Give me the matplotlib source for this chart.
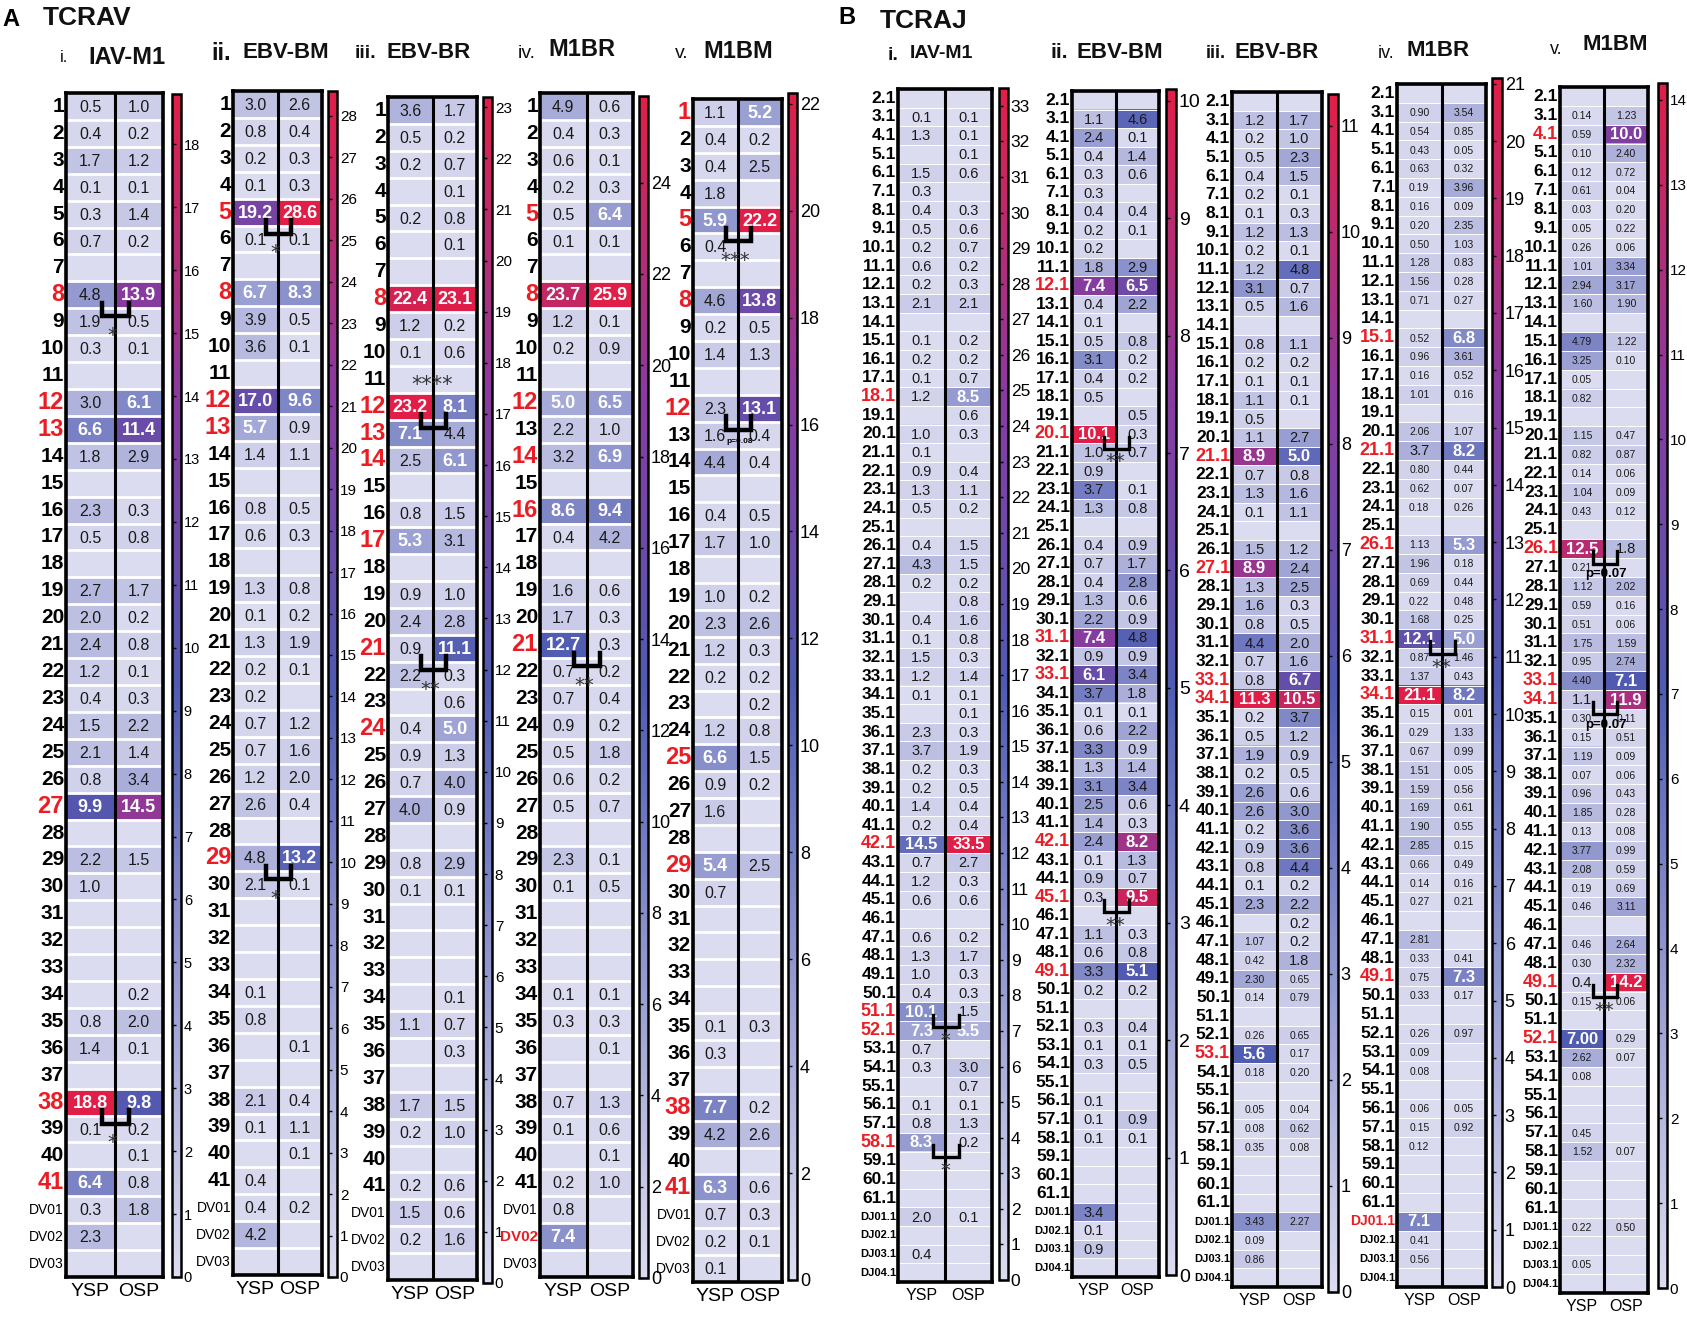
import matplotlib
matplotlib.use('Agg')
import matplotlib.pyplot as plt
import matplotlib.transforms as mtransforms
from matplotlib import font_manager
from matplotlib.colors import LinearSegmentedColormap, Normalize
from matplotlib.cm import ScalarMappable
import numpy as np

W, H = 1687, 1326

# ---------------- data: TCRAV (panel A), '-' = no value ----------------
av_rows = [str(i) for i in range(1, 42)] + ['DV01', 'DV02', 'DV03']

av_iav_ysp = "0.5 0.4 1.7 0.1 0.3 0.7 - 4.8 1.9 0.3 - 3.0 6.6 1.8 - 2.3 0.5 - 2.7 2.0 2.4 1.2 0.4 1.5 2.1 0.8 9.9 - 2.2 1.0 - - - - 0.8 1.4 - 18.8 0.1 - 6.4 0.3 2.3 -".split()
av_iav_osp = "1.0 0.2 1.2 0.1 1.4 0.2 - 13.9 0.5 0.1 - 6.1 11.4 2.9 - 0.3 0.8 - 1.7 0.2 0.8 0.1 0.3 2.2 1.4 3.4 14.5 - 1.5 - - - - 0.2 2.0 0.1 - 9.8 0.2 0.1 0.8 1.8 - -".split()
av_ebvbm_ysp = "3.0 0.8 0.2 0.1 19.2 0.1 - 6.7 3.9 3.6 - 17.0 5.7 1.4 - 0.8 0.6 - 1.3 0.1 1.3 0.2 0.2 0.7 0.7 1.2 2.6 - 4.8 2.1 - - - 0.1 0.8 - - 2.1 0.1 - 0.4 0.4 4.2 -".split()
av_ebvbm_osp = "2.6 0.4 0.3 0.3 28.6 0.1 - 8.3 0.5 0.1 - 9.6 0.9 1.1 - 0.5 0.3 - 0.8 0.2 1.9 0.1 - 1.2 1.6 2.0 0.4 - 13.2 0.1 - - - - - 0.1 - 0.4 1.1 0.1 - 0.2 - -".split()
av_ebvbr_ysp = "3.6 0.5 0.2 - 0.2 - - 22.4 1.2 0.1 - 23.2 7.1 2.5 - 0.8 5.3 - 0.9 2.4 0.9 2.2 - 0.4 0.9 0.7 4.0 - 0.8 0.1 - - - - 1.1 - - 1.7 0.2 - 0.2 1.5 0.2 -".split()
av_ebvbr_osp = "1.7 0.2 0.7 0.1 0.8 0.1 - 23.1 0.2 0.6 - 8.1 4.4 6.1 - 1.5 3.1 - 1.0 2.8 11.1 0.3 0.6 5.0 1.3 4.0 0.9 - 2.9 0.1 - - - 0.1 0.7 0.3 - 1.5 1.0 - 0.6 0.6 1.6 -".split()
av_m1br_ysp = "4.9 0.4 0.6 0.2 0.5 0.1 - 23.7 1.2 0.2 - 5.0 2.2 3.2 - 8.6 0.4 - 1.6 1.7 12.7 0.7 0.7 0.9 0.5 0.6 0.5 - 2.3 0.1 - - - 0.1 0.3 - - 0.7 0.1 - 0.2 0.8 7.4 -".split()
av_m1br_osp = "0.6 0.3 0.1 0.3 6.4 0.1 - 25.9 0.1 0.9 - 6.5 1.0 6.9 - 9.4 4.2 - 0.6 0.3 0.3 0.2 0.4 0.2 1.8 0.2 0.7 - 0.1 0.5 - - - 0.1 0.3 0.1 - 1.3 0.6 0.1 1.0 - - -".split()
av_m1bm_ysp = "1.1 0.4 0.4 1.8 5.9 0.4 - 4.6 0.2 1.4 - 2.3 1.6 4.4 - 0.4 1.7 - 1.0 2.3 1.2 0.2 - 1.2 6.6 0.9 1.6 - 5.4 0.7 - - - - 0.1 0.3 - 7.7 4.2 - 6.3 0.7 0.2 0.1".split()
av_m1bm_osp = "5.2 0.2 2.5 - 22.2 - - 13.8 0.5 1.3 - 13.1 0.4 0.4 - 0.5 1.0 - 0.2 2.6 0.3 0.2 0.2 0.8 1.5 0.2 - - 2.5 - - - - - 0.3 - - 0.2 2.6 - 0.6 0.3 0.1 -".split()

av_red = [['8', '12', '13', '27', '38', '41'],
          ['5', '8', '12', '13', '29'],
          ['8', '12', '13', '14', '17', '21', '24'],
          ['5', '8', '12', '14', '16', '21', 'DV02'],
          ['1', '5', '8', '12', '25', '29', '38', '41']]
av_marks = [[('8', '*'), ('38', '*')],
            [('5', '*'), ('29', '*')],
            [('12', '****'), ('21', '**')],
            [('21', '**')],
            [('5', '***'), ('12', 'p=0.08')]]

# ---------------- data: TCRAJ (panel B) ----------------
aj_rows = ['%d.1' % i for i in range(2, 62)] + ['DJ01.1', 'DJ02.1', 'DJ03.1', 'DJ04.1']

aj_iav_ysp = ("- 0.1 1.3 - 1.5 0.3 0.4 0.5 0.2 0.6  0.2 2.1 - 0.1 0.2 0.1 1.2 - 1.0 0.1  "
              "0.9 1.3 0.5 - 0.4 4.3 0.2 - 0.4 0.1  1.5 1.2 0.1 - 2.3 3.7 0.2 0.2 1.4 0.2  "
              "14.5 0.7 1.2 0.6 - 0.6 1.3 1.0 0.4 10.1  7.3 0.7 0.3 - 0.1 0.8 8.3 - - -  2.0 - 0.4 -").split()
aj_iav_osp = ("- 0.1 0.1 0.1 0.6 - 0.3 0.6 0.7 0.2  0.3 2.1 - 0.2 0.2 0.7 8.5 0.6 0.3 -  "
              "0.4 1.1 0.2 - 1.5 1.5 0.2 0.8 1.6 0.8  0.3 1.4 0.1 0.1 0.3 1.9 0.3 0.5 0.4 0.4  "
              "33.5 2.7 0.3 0.6 - 0.2 1.7 0.3 0.3 1.5  5.5 - 3.0 0.7 0.1 1.3 0.2 - - -  0.1 - - -").split()
aj_ebvbm_ysp = ("- 1.1 2.4 0.4 0.3 0.3 0.4 0.2 0.2 1.8  7.4 0.4 0.1 0.5 3.1 0.4 0.5 - 10.1 1.0  "
                "0.9 3.7 1.3 - 0.4 0.7 0.4 1.3 2.2 7.4  0.9 6.1 3.7 0.1 0.6 3.3 1.3 3.1 2.5 1.4  "
                "2.4 0.1 0.9 0.3 - 1.1 0.6 3.3 0.2 -  0.3 0.1 0.3 - 0.1 0.1 0.1 - - -  3.4 0.1 0.9 -").split()
aj_ebvbm_osp = ("- 4.6 0.1 1.4 0.6 - 0.4 0.1 - 2.9  6.5 2.2 - 0.8 0.2 0.2 - 0.5 0.3 0.7  "
                "- 0.1 0.8 - 0.9 1.7 2.8 0.6 0.9 4.8  0.9 3.4 1.8 0.1 2.2 0.9 1.4 3.4 0.6 0.3  "
                "8.2 1.3 0.7 9.5 - 0.3 0.8 5.1 0.2 -  0.4 0.1 0.5 - - 0.9 0.1 - - -  - - - -").split()
aj_ebvbr_ysp = ("- 1.2 0.2 0.5 0.4 0.2 0.1 1.2 0.2 1.2  3.1 0.5 - 0.8 0.2 0.1 1.1 0.5 1.1 8.9  "
                "0.7 1.3 0.1 - 1.5 8.9 1.3 1.6 0.8 4.4  0.7 0.8 11.3 0.2 0.5 1.9 0.2 2.6 2.6 0.2  "
                "0.9 0.8 0.1 2.3 - 1.07 0.42 2.30 0.14 -  0.26 5.6 0.18 - 0.05 0.08 0.35 - - -  3.43 0.09 0.86 -").split()
aj_ebvbr_osp = ("- 1.7 1.0 2.3 1.5 0.1 0.3 1.3 0.1 4.8  0.7 1.6 - 1.1 0.2 0.1 0.1 - 2.7 5.0  "
                "0.8 1.6 1.1 - 1.2 2.4 2.5 0.3 0.5 2.0  1.6 6.7 10.5 3.7 1.2 0.9 0.5 0.6 3.0 3.6  "
                "3.6 4.4 0.2 2.2 0.2 0.2 1.8 0.65 0.79 -  0.65 0.17 0.20 - 0.04 0.62 0.08 - - -  2.27 - - -").split()
aj_m1br_ysp = ("- 0.90 0.54 0.43 0.63 0.19 0.16 0.20 0.50 1.28  1.56 0.71 - 0.52 0.96 0.16 1.01 - 2.06 3.7  "
               "0.80 0.62 0.18 - 1.13 1.96 0.69 0.22 1.68 12.1  0.87 1.37 21.1 0.15 0.29 0.67 1.51 1.59 1.69 1.90  "
               "2.85 0.66 0.14 0.27 - 2.81 0.33 0.75 0.33 -  0.26 0.09 0.08 - 0.06 0.15 0.12 - - -  7.1 0.41 0.56 -").split()
aj_m1br_osp = ("- 3.54 0.85 0.05 0.32 3.96 0.09 2.35 1.03 0.83  0.28 0.27 - 6.8 3.61 0.52 0.16 - 1.07 8.2  "
               "0.44 0.07 0.26 - 5.3 0.18 0.44 0.48 0.25 5.0  1.46 0.43 8.2 0.01 1.33 0.99 0.05 0.56 0.61 0.55  "
               "0.15 0.49 0.16 0.21 - - 0.41 7.3 0.17 -  0.97 - - - 0.05 0.92 - - - -  - - - -").split()
aj_m1bm_ysp = ("- 0.14 0.59 0.10 0.12 0.61 0.03 0.05 0.26 1.01  2.94 1.60 - 4.79 3.25 0.05 0.82 - 1.15 0.82  "
               "0.14 1.04 0.43 - 12.5 0.21 1.12 0.59 0.51 1.75  0.95 4.40 1.1 0.30 0.15 1.19 0.07 0.96 1.85 0.13  "
               "3.77 2.08 0.19 0.46 - 0.46 0.30 0.4 0.15 -  7.00 2.62 0.08 - - 0.45 1.52 - - -  0.22 - 0.05 -").split()
aj_m1bm_osp = ("- 1.23 10.0 2.40 0.72 0.04 0.20 0.22 0.06 3.34  3.17 1.90 - 1.22 0.10 - - - 0.47 0.87  "
               "0.06 0.09 0.12 - 1.8 - 2.02 0.16 0.06 1.59  2.74 7.1 11.9 0.11 0.51 0.09 0.06 0.43 0.28 0.08  "
               "0.99 0.59 0.69 3.11 - 2.64 2.32 14.2 0.06 -  0.29 0.07 - - - - 0.07 - - -  0.50 - - -").split()

aj_red = [['18.1', '42.1', '51.1', '52.1', '58.1'],
          ['12.1', '20.1', '31.1', '33.1', '42.1', '45.1', '49.1'],
          ['21.1', '27.1', '33.1', '34.1', '53.1'],
          ['15.1', '21.1', '26.1', '31.1', '34.1', '49.1', 'DJ01.1'],
          ['4.1', '26.1', '33.1', '34.1', '49.1', '52.1']]
aj_marks = [[('51.1', '*'), ('58.1', '*')],
            [('20.1', '**'), ('45.1', '**')],
            [],
            [('31.1', '**')],
            [('26.1', 'p=0.07'), ('34.1', 'p=0.07'), ('49.1', '**')]]

panel_names = ['IAV-M1', 'EBV-BM', 'EBV-BR', 'M1BR', 'M1BM']
panel_nums = ['i.', 'ii.', 'iii.', 'iv.', 'v.']

# ---------------- layout (pixels) ----------------
lay_av = [
    dict(hm=(66, 163, 93, 1277), cb=(172, 181, 94, 1277), pre=(60, 57, 12, 'normal'), name=(88, 57, 17), cbfs=10.5, step=1),
    dict(hm=(233, 322, 91, 1275), cb=(328, 337, 91, 1277), pre=(211, 53, 17, 'bold'), name=(243, 53, 16), cbfs=11, step=1),
    dict(hm=(388, 477, 97, 1280), cb=(483, 492, 97, 1283), pre=(355, 54, 14, 'bold'), name=(386, 52, 16), cbfs=11, step=1),
    dict(hm=(540, 633, 93, 1277), cb=(639, 648, 96, 1278), pre=(518, 53, 14, 'normal'), name=(548, 50, 17), cbfs=13, step=2),
    dict(hm=(693, 782, 99, 1282), cb=(788, 797, 93, 1280), pre=(675, 54, 14, 'normal'), name=(703, 52, 17), cbfs=13, step=2),
]
lay_aj = [
    dict(hm=(898, 992, 89, 1282), cb=(999, 1008, 88, 1280), pre=(888, 55, 14, 'bold'), name=(910, 53, 14), cbfs=12.5, step=1),
    dict(hm=(1072, 1159, 91, 1277), cb=(1166, 1176, 89, 1275), pre=(1051, 53, 15, 'bold'), name=(1076, 52, 16), cbfs=14, step=1),
    dict(hm=(1232, 1322, 92, 1287), cb=(1328, 1338, 94, 1292), pre=(1206, 54, 13, 'bold'), name=(1235, 52, 16), cbfs=13, step=1),
    dict(hm=(1397, 1486, 84, 1287), cb=(1492, 1502, 78, 1287), pre=(1378, 53, 13, 'normal'), name=(1406, 50, 16), cbfs=13, step=1),
    dict(hm=(1560, 1648, 87, 1293), cb=(1658, 1667, 83, 1288), pre=(1550, 50, 13, 'normal'), name=(1583, 45, 16), cbfs=11, step=1),
]

_names = {f.name for f in font_manager.fontManager.ttflist}
NARROW = 'Liberation Sans Narrow' if 'Liberation Sans Narrow' in _names else 'Liberation Sans'
ARIAL = 'Liberation Sans'
RED = '#ec1c24'

cmap = LinearSegmentedColormap.from_list(
    'tcr', [(0, '#dcdcf0'), (0.5, '#4f5bb1'), (0.75, '#8a3a9e'), (1.0, '#e01e48')])

fig = plt.figure(figsize=(W / 100, H / 100), dpi=100)


def px_axes(x0, x1, yt, yb):
    return fig.add_axes([x0 / W, 1 - yb / H, (x1 - x0) / W, (yb - yt) / H])


def bracket(ax, i, txt, part):
    a, b = 0.24, 0.8
    if part == 'A':
        y0, y1, lw = i + 0.3, i + 0.8, 3.2
    else:
        y0, y1, lw = i + 0.15, i + 0.8, 2.4
    ax.plot([a, a, b, b], [y0, y1, y1, y0], color='black', lw=lw,
            solid_joinstyle='miter', solid_capstyle='projecting', zorder=6)
    if txt == '****':
        ax.text(0.5, i - 0.8, txt, ha='center', va='center', fontsize=15, color='#333333',
                zorder=7, family='DejaVu Sans')
    elif txt.startswith('p'):
        ax.text(0.55, y1 + (0.45 if part == 'A' else 0.55), txt, ha='center', va='center',
                fontsize=6 if part == 'A' else 9.5, fontweight='bold', zorder=7, family=NARROW)
    else:
        ax.text(0.45 if part == 'A' else 0.5, y1 + 0.72, txt, ha='center', va='center',
                fontsize=14, color='#333333', zorder=7, family='DejaVu Sans')


def draw_panel(rows, ysp, osp, red, marks, lay, num, name, part):
    assert len(ysp) == len(rows) and len(osp) == len(rows), (name, part, len(ysp), len(osp))
    n = len(rows)
    vals = np.array([[np.nan if a == '-' else float(a), np.nan if b == '-' else float(b)]
                     for a, b in zip(ysp, osp)])
    vmax = np.nanmax(vals)
    ax = px_axes(*lay['hm'])
    ax.imshow(np.nan_to_num(vals), cmap=cmap, vmin=0, vmax=vmax, aspect='auto',
              interpolation='nearest')
    ax.hlines(np.arange(n - 1) + 0.5, -0.5, 1.5, colors='white',
              lw=2.0 if part == 'A' else 0.7, zorder=2)
    ax.axvline(0.5, color='black', lw=2.2, zorder=4)
    ax.set_xlim(-0.5, 1.5)
    ax.set_ylim(n - 0.5, -0.5)
    for s in ax.spines.values():
        s.set_linewidth(2.6)
        s.set_color('black')
        s.set_zorder(5)

    if part == 'A':
        vfs, bfs, sfs, lfs, rfs, xfs, dfs, drfs = 11.5, 13, 8.5, 15, 17, 14, 10, 11
    else:
        vfs, bfs, sfs, lfs, rfs, xfs, dfs, drfs = 10.5, 12, 7.5, 12.5, 13, 11.5, 8, 10
    for i in range(n):
        for j, s in enumerate((ysp[i], osp[i])):
            if s == '-':
                continue
            v = float(s)
            if v >= 5:
                ax.text(j, i + 0.04, s, color='white', fontsize=bfs, fontweight='bold',
                        ha='center', va='center', zorder=3, family=ARIAL)
            else:
                fs = sfs if len(s.split('.')[1]) == 2 else vfs
                ax.text(j, i + 0.04, s, color='#1a1a1a', fontsize=fs,
                        ha='center', va='center', zorder=3, family=NARROW)

    trans = mtransforms.offset_copy(ax.get_yaxis_transform(), fig=fig, x=-2, units='dots')
    for i, r in enumerate(rows):
        longlab = r.startswith('D')
        if r in red:
            ax.text(0, i, r, transform=trans, ha='right', va='center', color=RED,
                    fontsize=drfs if longlab else rfs, fontweight='bold', family=ARIAL)
        else:
            ax.text(0, i, r, transform=trans, ha='right', va='center', color='black',
                    fontsize=dfs if longlab else lfs,
                    fontweight='normal' if (longlab and part == 'A') else 'bold', family=NARROW)

    ax.set_yticks([])
    ax.set_xticks([0, 1])
    ax.set_xticklabels(['YSP', 'OSP'])
    ax.tick_params(axis='x', length=0, pad=4)
    for t in ax.get_xticklabels():
        t.set_fontsize(xfs)
        t.set_family(NARROW)

    for r, txt in marks:
        bracket(ax, rows.index(r), txt, part)

    # colour bar
    cax = px_axes(*lay['cb'])
    sm = ScalarMappable(norm=Normalize(0, vmax), cmap=cmap)
    sm.set_array([])
    ticks = np.arange(0, int(vmax) + 1, lay['step'])
    cbar = fig.colorbar(sm, cax=cax, ticks=ticks)
    cbar.outline.set_linewidth(1.8)
    cbar.outline.set_edgecolor('black')
    cax.tick_params(left=True, right=False, labelleft=False, labelright=True,
                    direction='in', length=3, width=1, pad=2)
    for t in cax.get_yticklabels():
        t.set_fontsize(lay['cbfs'])
        t.set_family(NARROW)

    # panel title
    px, py, pfs, pw = lay['pre']
    fig.text(px / W, 1 - py / H, num, fontsize=pfs, fontweight=pw, ha='left', va='center',
             color='#111111', family=ARIAL)
    nx, ny, nfs = lay['name']
    fig.text(nx / W, 1 - ny / H, name, fontsize=nfs, fontweight='bold', ha='left', va='center',
             color='#111111', family=ARIAL)


av_data = [(av_iav_ysp, av_iav_osp), (av_ebvbm_ysp, av_ebvbm_osp), (av_ebvbr_ysp, av_ebvbr_osp),
           (av_m1br_ysp, av_m1br_osp), (av_m1bm_ysp, av_m1bm_osp)]
aj_data = [(aj_iav_ysp, aj_iav_osp), (aj_ebvbm_ysp, aj_ebvbm_osp), (aj_ebvbr_ysp, aj_ebvbr_osp),
           (aj_m1br_ysp, aj_m1br_osp), (aj_m1bm_ysp, aj_m1bm_osp)]

for k in range(5):
    draw_panel(av_rows, av_data[k][0], av_data[k][1], av_red[k], av_marks[k], lay_av[k],
               panel_nums[k], panel_names[k], 'A')
    draw_panel(aj_rows, aj_data[k][0], aj_data[k][1], aj_red[k], aj_marks[k], lay_aj[k],
               panel_nums[k], panel_names[k], 'B')

fig.text(2 / W, 1 - 20 / H, 'A', fontsize=17, fontweight='bold', ha='left', va='center', family=ARIAL)
fig.text(43 / W, 1 - 18 / H, 'TCRAV', fontsize=19, fontweight='bold', ha='left', va='center',
         color='#111111', family=ARIAL)
fig.text(838 / W, 1 - 18 / H, 'B', fontsize=17, fontweight='bold', ha='left', va='center', family=ARIAL)
fig.text(880 / W, 1 - 21 / H, 'TCRAJ', fontsize=19, fontweight='bold', ha='left', va='center',
         color='#111111', family=ARIAL)

fig.savefig('out.png', dpi=100)
